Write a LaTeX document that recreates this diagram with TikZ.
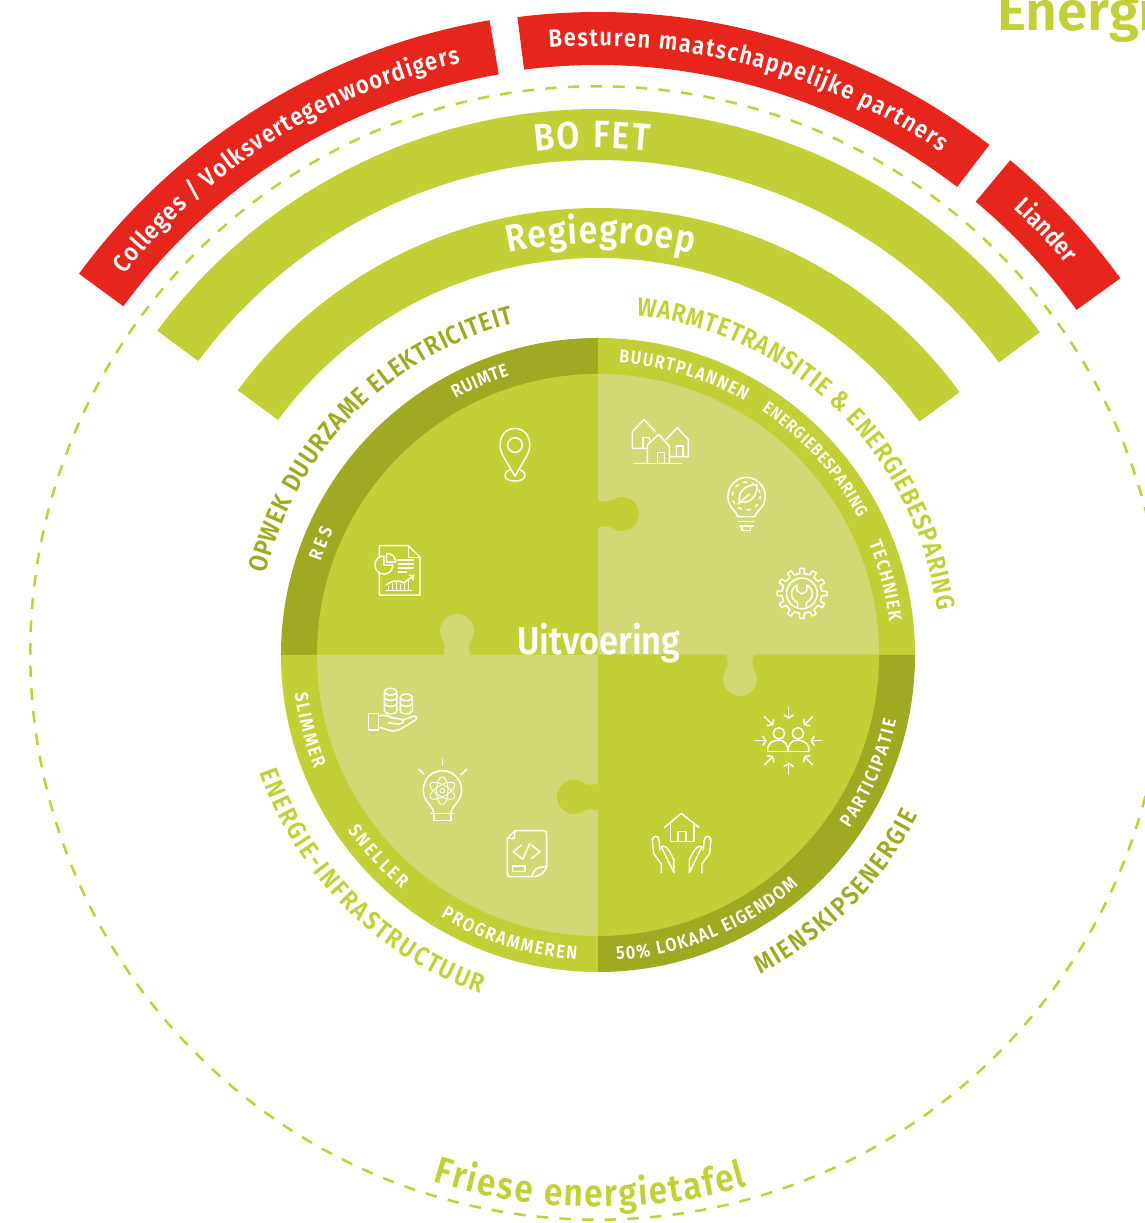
\documentclass[tikz,border=0pt]{standalone}
\usepackage{fontspec}
\usetikzlibrary{decorations.text}
\newfontfamily\dinfont[FakeStretch=.88]{Fira Sans SemiBold}
\newfontfamily\headfont{Fira Sans SemiBold}
\definecolor{lime}{HTML}{C2CF37}
\definecolor{olive}{HTML}{A0A922}
\definecolor{pale}{HTML}{D2D974}
\definecolor{signal}{HTML}{E6251C}
\newcommand{\redfont}{\dinfont\fontsize{25}{25}\selectfont\color{white}}
\newcommand{\bandfont}{\dinfont\fontsize{38}{38}\selectfont\color{white}}
\newcommand{\tablefont}{\dinfont\fontsize{38}{38}\selectfont\color{lime}}
\newcommand{\limefont}{\dinfont\fontsize{26}{26}\selectfont\color{lime}}
\newcommand{\olivefont}{\dinfont\fontsize{26}{26}\selectfont\color{olive}}
\newcommand{\ringfont}{\dinfont\fontsize{18.5}{18.5}\selectfont\color{white}}
\newcommand{\ringsmall}{\dinfont\fontsize{17}{17}\selectfont\color{white}}
\newcommand{\arclabel}[5]{\path[decorate,decoration={text along path,text={|#1|#5},text align={fit to path}}](#3:#2)arc[start angle=#3,end angle=#4,radius=#2];}
\newcommand{\band}[5]{\fill[#1](#4:#2)arc[start angle=#4,end angle=#5,radius=#2]--(#5:#3)arc[start angle=#5,end angle=#4,radius=#3]--cycle;}
\newcommand{\knob}[4]{\fill[#1,shift={(#2,#3)},rotate=#4](-1,-13.5)--(0,-13.5)..controls(5,-12.5)and(10.1,-11.05)..(14.2,-13.9)arc[start angle=-125,end angle=125,radius=17]..controls(10.1,11.05)and(5,12.5)..(0,13.5)--(-1,13.5)--cycle;}
\tikzset{
  icon/.style={draw=white,line width=1.5,line join=round,line cap=round},
  zoomtl/.style={x=.3333pt,y=-.3333pt,shift={(840,-2649)}},
  zoomtr/.style={x=.3333pt,y=-.3333pt,shift={(1794,-2649)}},
  zoombl/.style={x=.3333pt,y=-.3333pt,shift={(840,-1719)}},
  zoombr/.style={x=.3333pt,y=-.3333pt,shift={(1794,-1719)}},
}
\begin{document}
\begin{tikzpicture}[x=1pt,y=1pt]
\useasboundingbox(0,0)rectangle(1145,1223);
\clip(0,0)rectangle(1145,1223);

\node[font=\headfont\fontsize{55}{55}\selectfont,text=lime,anchor=base west,inner sep=0](energi)at(997,1192){Energi};

\begin{scope}[shift={(598,568)}]
%dashed circle
\draw[lime,line width=2.5,dash pattern=on 11.5pt off 11.2pt](-1,2)circle[radius=566.7];

%red arcs
\band{signal}{644}{589}{143.7}{99.7}
\band{signal}{643}{590}{97.2}{52.5}
\band{signal}{644}{590}{50.2}{35.8}
\arclabel{\redfont}{608}{141.2}{103.1}{Colleges / Volksvertegenwoordigers}
\arclabel{\redfont}{609}{94.6}{55.7}{Besturen maatschappelijke partners}
\arclabel{\redfont}{610}{47.1}{39.9}{Liander}

%green bands
\begin{scope}[shift={(0,-3)}]
\band{lime}{549}{498}{143.4}{36.4}
\end{scope}
\band{lime}{447}{397}{143.7}{36}
\arclabel{\bandfont}{507}{97.1}{84.2}{BO FET}
\arclabel{\bandfont}{412}{102.6}{76.7}{Regiegroep}

%wheel
\foreach \a/\c/\d in {90/olive/lime,0/lime/pale,180/lime/pale,270/olive/lime}{
\fill[\c](0,0)--(\a:317)arc[start angle=\a,end angle=\a+90,radius=317]--cycle;
\fill[\d](0,0)--(\a:281)arc[start angle=\a,end angle=\a+90,radius=281]--cycle;
}
\knob{lime}{0}{141}{0}
\knob{pale}{-141}{0}{90}
\knob{lime}{0}{-142}{180}
\knob{pale}{142}{0}{-90}

%outer labels
\arclabel{\olivefont}{342}{166.3}{104.2}{OPWEK DUURZAME ELEKTRICITEIT}
\arclabel{\limefont}{342}{83.6}{7.4}{WARMTETRANSITIE {\&} ENERGIEBESPARING}
\arclabel{\limefont}{358}{199.2}{250.9}{ENERGIE-INFRASTRUCTUUR}
\arclabel{\olivefont}{358}{-63.1}{-26.6}{MIENSKIPSENERGIE}
\arclabel{\tablefont}{552}{252.6}{285.7}{Friese energietafel}

%ring labels
\arclabel{\ringfont}{293}{161.4}{154.7}{RES}
\arclabel{\ringfont}{293}{119.1}{107.6}{RUIMTE}
\arclabel{\ringfont}{293}{85.9}{60}{BUURTPLANNEN}
\arclabel{\ringsmall}{294}{56.2}{27.8}{ENERGIEBESPARING}
\arclabel{\ringfont}{293}{22.4}{6.5}{TECHNIEK}
\arclabel{\ringfont}{305.5}{187.2}{201.8}{SLIMMER}
\arclabel{\ringfont}{305.5}{215}{230}{SNELLER}
\arclabel{\ringfont}{305.5}{239}{266}{PROGRAMMEREN}
\arclabel{\ringfont}{305.5}{-86.5}{-49}{50{\%} LOKAAL EIGENDOM}
\arclabel{\ringfont}{305.5}{-34.6}{-12.4}{PARTICIPATIE}
\end{scope}

\node[font=\dinfont\fontsize{39}{39}\selectfont,text=white,anchor=base,inner sep=0](uitvoering)at(599,568){Uitvoering};

%pin
\begin{scope}[zoomtl,icon]
\draw(705,315)circle[radius=22];
\draw(705,408)--(668,345)..controls(650,310)and(665,265)..(705,265)..controls(745,265)and(760,310)..(742,345)--cycle;
\draw(688,390)..controls(665,400)and(672,423)..(705,423)..controls(738,423)and(745,400)..(722,390);
\end{scope}

%report
\begin{scope}[zoomtl,icon]
\draw(298,650)--(298,617)--(385,617)--(420,652)--(420,765)--(298,765)--(298,700);
\draw(385,617)--(385,652)--(420,652);
\draw(312,648)..controls(295,648)and(285,660)..(285,675)..controls(285,690)and(297,702)..(312,702)..controls(327,702)and(339,690)..(339,675)--(312,675)--cycle;
\draw(320,640)--(320,666)--(347,666)..controls(347,650)and(335,640)..(320,640)--cycle;
\draw(352,660)--(400,660);
\draw(355,672)--(400,672);
\draw(355,684)--(400,684);
\draw(355,696)--(380,696);
\draw(318,752)--(395,752);
\foreach \x/\y in {325/740,337/732,349/728,361/734,373/730,385/722}{
\draw(\x,752)--(\x,\y);
}
\draw(318,735)..controls(340,718)and(360,722)..(372,728)--(402,706);
\draw(388,706)--(402,706)--(398,720);
\end{scope}

%houses
\begin{scope}[zoomtr,icon]
\draw(148,325)--(103,325)--(103,275)--(138,238)--(172,275);
\draw(135,325)--(135,292)--(155,292)--(155,310);
\draw(148,370)--(148,315)--(182,283)--(214,318)--(214,370);
\draw(178,370)--(178,338)--(200,338)--(200,370);
\draw(205,298)--(238,263)--(271,298)--(271,350)--(214,350);
\draw(235,350)--(235,318)--(255,318)--(255,350);
\draw(107,370)--(250,370);
\end{scope}

%leaf bulb
\begin{scope}[zoomtr,icon]
\draw(420,530)..controls(415,510)and(390,505)..(390,468)..controls(390,435)and(418,412)..(445,412)..controls(472,412)and(502,435)..(502,468)..controls(502,505)and(475,510)..(470,530)--cycle;
\draw(422,545)--(468,545);
\draw(425,558)--(465,558);
\draw(432,558)--(432,572)--(458,572)--(458,558);
\draw(425,485)..controls(415,455)and(450,430)..(477,435)..controls(480,465)and(455,495)..(425,485)--cycle;
\draw(420,492)--(455,462);
\draw[dash pattern=on 3pt off 6pt](445,468)circle[radius=42];
\end{scope}

%gear
\begin{scope}[zoomtr,icon]
\begin{scope}[shift={(612,760)}]
\draw(-7:60)\foreach \a in {0,30,...,330}{--(\a-7:60)--(\a-5:75)--(\a+5:75)--(\a+7:60)--(\a+23:60)}--cycle;
\draw(0,0)circle[radius=46];
\end{scope}
\draw(597,735)--(597,752)--(612,762)--(627,752)--(627,735)..controls(650,748)and(648,778)..(625,787)--(625,803);
\draw(599,803)--(599,787)..controls(576,778)and(574,748)..(597,735);
\end{scope}

%coins
\begin{scope}[zoombl,icon]
\draw(313,125)--(313,182)..controls(313,195)and(351,195)..(351,182)--(351,125);
\draw(332,125)ellipse[x radius=19,y radius=10];
\draw(361,142)--(361,182)..controls(361,195)and(397,195)..(397,182)--(397,142);
\draw(379,142)ellipse[x radius=18,y radius=10];
\foreach \y in {142,160}{
\draw(313,\y)..controls(313,\y+12)and(351,\y+12)..(351,\y);
}
\foreach \y in {160}{
\draw(361,\y)..controls(361,\y+12)and(397,\y+12)..(397,\y);
}
\draw(265,190)rectangle(295,240);
\draw(295,198)..controls(320,190)and(330,205)..(362,207)..controls(375,208)and(372,222)..(355,222)--(325,218);
\draw(365,212)--(400,198)..controls(412,195)and(412,207)..(403,212)..controls(380,225)and(360,243)..(340,243)..controls(325,243)and(310,232)..(295,232);
\end{scope}

%atom bulb
\begin{scope}[zoombl,icon]
\draw(487,328)--(487,345);
\draw(417,358)--(432,372);
\draw(560,358)--(543,374);
\draw(462,490)..controls(458,465)and(430,455)..(430,420)..controls(430,388)and(455,362)..(487,362)..controls(519,362)and(545,388)..(545,420)..controls(545,455)and(516,465)..(512,490);
\draw(452,490)--(522,490);
\draw(462,490)rectangle(513,512);
\foreach \a in {30,90,150}{
\draw[rotate around={\a:(487,422)},line width=.9](487,422)ellipse[x radius=42,y radius=17];
}
\draw[line width=.9](487,422)circle[radius=7];
\end{scope}

%code sheet
\begin{scope}[zoombl,icon]
\draw(705,542)--(790,542)..controls(797,542)and(800,546)..(800,552)--(800,650)..controls(795,668)and(780,680)..(755,680)--(692,680)..controls(685,680)and(682,677)..(682,670)--(682,565)--cycle;
\draw(682,565)--(703,565)--(705,542);
\draw(800,650)..controls(770,650)and(760,660)..(755,680);
\draw(725,585)--(700,605)--(725,625);
\draw(755,585)--(780,605)--(755,625);
\draw(750,580)--(728,628);
\draw(697,648)rectangle(735,665);
\end{scope}

%people
\begin{scope}[zoombr,icon]
\draw(543,250)circle[radius=17];
\draw(600,250)circle[radius=17];
\draw(510,305)--(632,305);
\draw(510,305)..controls(505,280)and(525,270)..(543,270)..controls(560,270)and(572,285)..(570,305);
\draw(570,305)..controls(570,285)and(580,270)..(600,270)..controls(620,270)and(638,285)..(632,305);
\begin{scope}[shift={(572,272)}]
\foreach \a in {0,90,180,270}{
\draw(\a:100)--(\a:68);
\draw(\a+10:78)--(\a:68)--(\a-10:78);
}
\foreach \a in {45,135,225,315}{
\draw(\a:102)--(\a:68);
\draw(\a+10:78)--(\a:68)--(\a-10:78);
}
\end{scope}
\end{scope}

%house in hands
\begin{scope}[zoombr,icon]
\draw(200,532)--(250,490)--(303,532);
\draw(217,520)--(217,575)--(288,575)--(288,520);
\draw(240,575)--(240,545)--(264,545)--(264,575);
\foreach \s/\t in {0/1,502/-1}{
\begin{scope}[shift={(\s,0)},xscale=\t]
\draw(190,668)--(190,642)--(167,610)--(163,570)..controls(165,555)and(182,555)..(183,570)--(186,600);
\draw(190,590)..controls(200,585)and(210,590)..(228,630)--(228,668)--cycle;
\end{scope}
}
\end{scope}
\end{tikzpicture}
\end{document}
